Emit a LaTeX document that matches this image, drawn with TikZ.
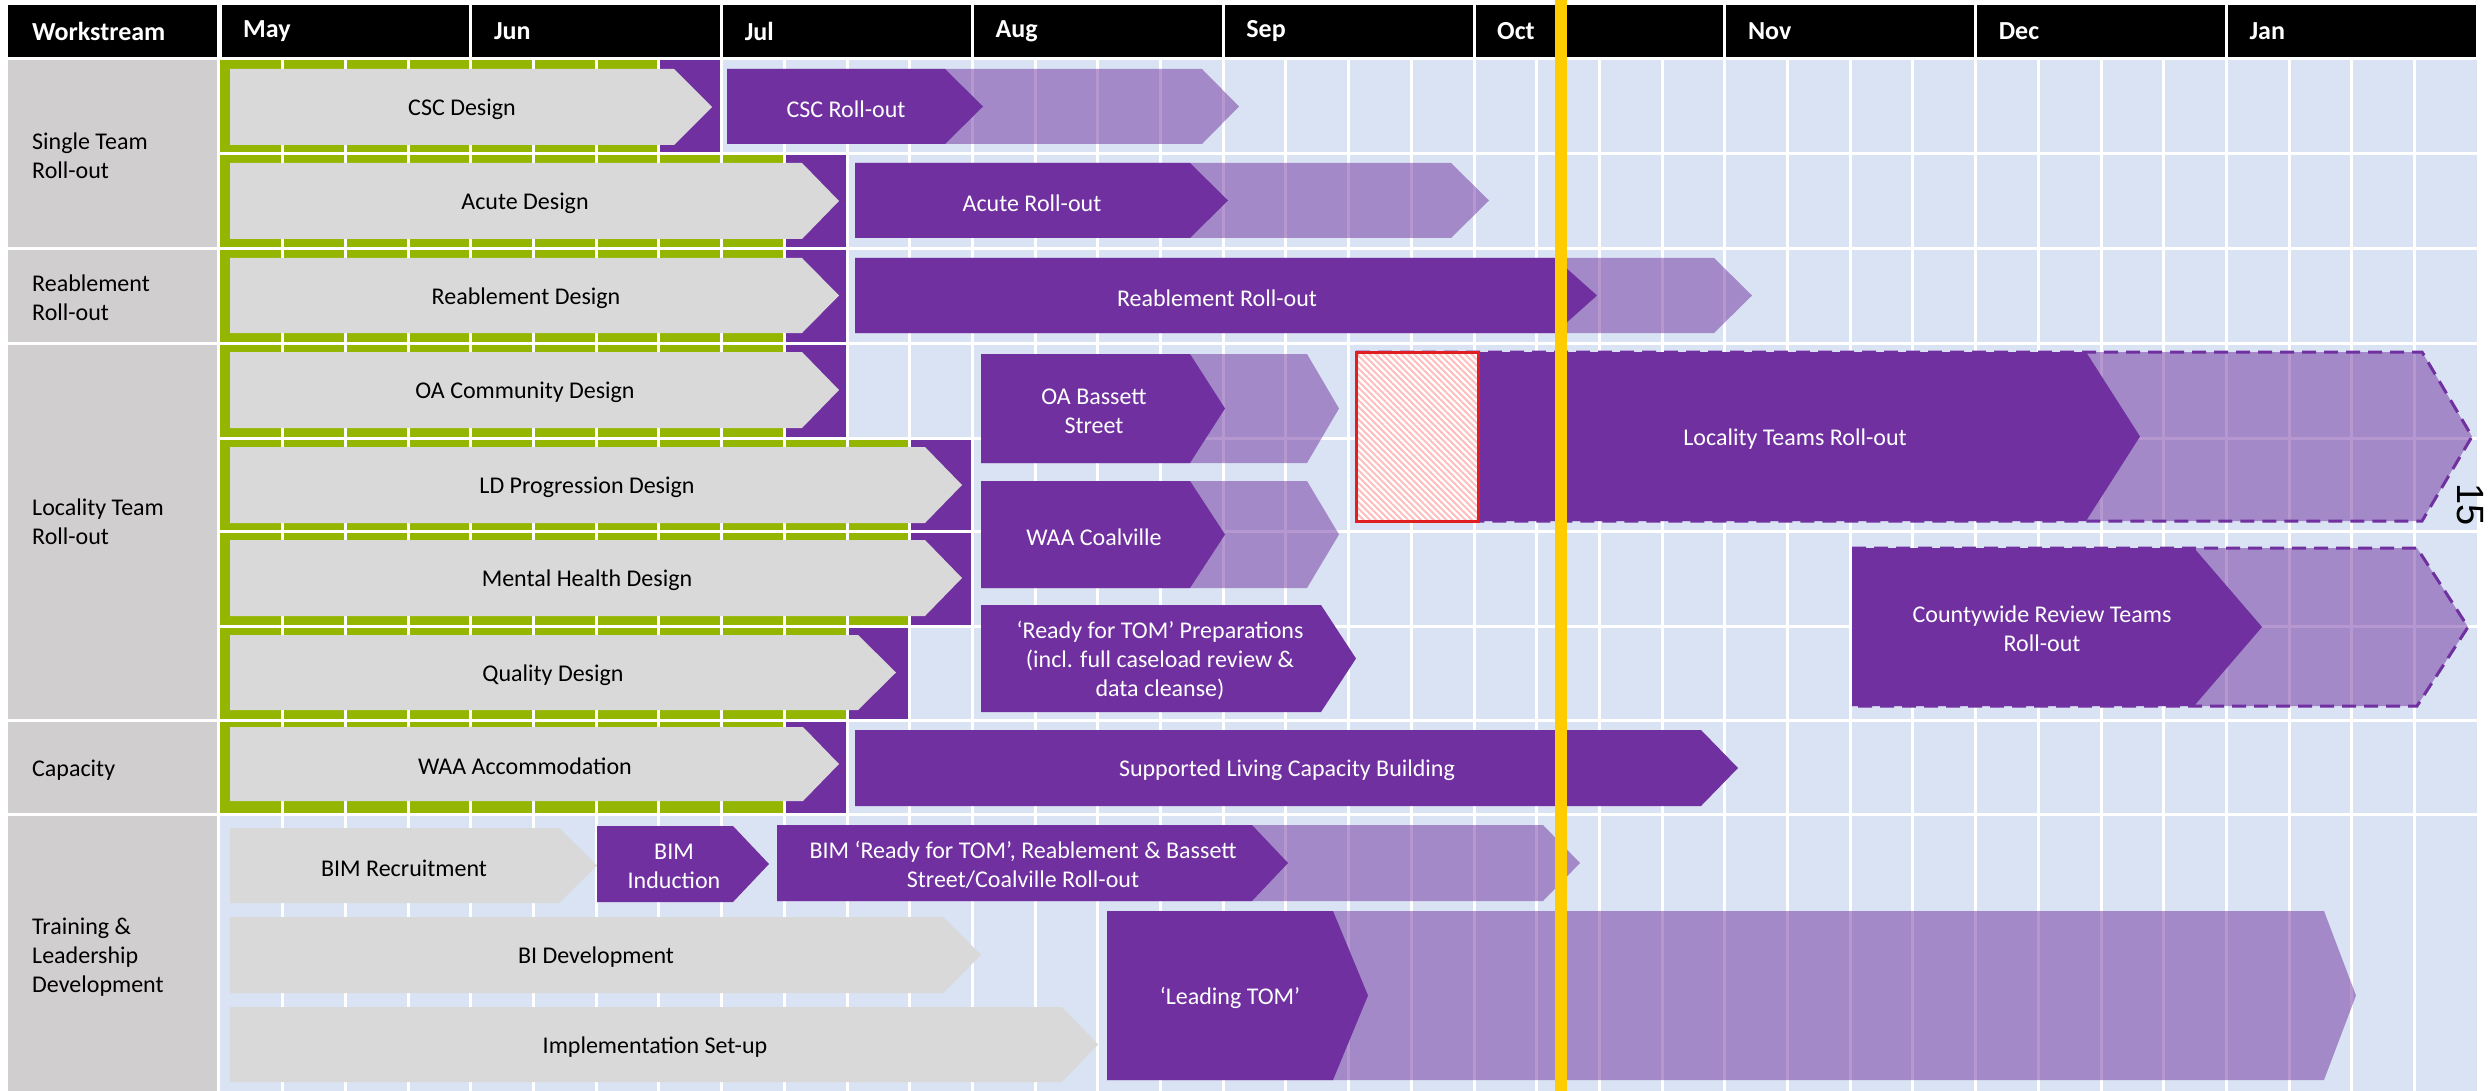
\documentclass[tikz,border=0pt]{standalone}
\usepackage{fontspec}
\setmainfont{Carlito}
\newfontfamily\numfont{Liberation Sans}
\usetikzlibrary{patterns.meta}
\definecolor{pur}{HTML}{7030A0}
\definecolor{gbar}{HTML}{D9D9D9}
\definecolor{lcol}{HTML}{D0CECE}
\definecolor{gridblue}{HTML}{DAE3F3}
\definecolor{grn}{HTML}{94B600}
\definecolor{yel}{HTML}{FFCC00}
\definecolor{hred}{HTML}{E02020}
\definecolor{hpink}{HTML}{FFBDBD}
\newcommand\mychev[6]{\path[#1] (#2,#5) -- (#3,#5) -- (#4,{(#5+#6)/2}) -- (#3,#6) -- (#2,#6) -- cycle;}
\newcommand\mychevedge[6]{\path[#1] (#2,#5) -- (#3,#5) -- (#4,{(#5+#6)/2}) -- (#3,#6) -- (#2,#6);}
\begin{document}
\begin{tikzpicture}[x=1pt,y=-1pt,
  lbl/.style={font=\fontsize{24}{29}\selectfont, align=center, inner sep=0pt},
  wl/.style={lbl, text=white},
  leftlbl/.style={lbl, align=left, anchor=west},
  hdr/.style={font=\fontsize{26}{31}\selectfont\bfseries, text=white, anchor=west, inner sep=0pt},
  graybar/.style={fill=gbar},
  darkbar/.style={fill=pur},
  lightbar/.style={fill=pur, fill opacity=0.5},
  dashedge/.style={draw=pur, line width=3pt, dash pattern=on 14pt off 8pt}]
\useasboundingbox (0,0) rectangle (2489,1091);
\fill[white] (0,0) rectangle (2489,1091);
% header
\fill[black] (8,5) rectangle (217,57);
\foreach \m in {0,...,8} {
  \fill[black] ({220+\m*250.8+1.5},5) rectangle ({220+(\m+1)*250.8-1.5},57);
}
\node[hdr] (hws) at (32,31) {Workstream};
\foreach \m/\nm in {0/May,1/Jun,2/Jul,3/Aug,4/Sep,5/Oct,6/Nov,7/Dec,8/Jan} {
  \node[hdr] (h\m) at ({220+\m*250.8+23},31) {\nm};
}
% grid
\fill[gridblue] (220,58) rectangle (2477,1091);
\foreach \t/\b/\g in {60/152/7,155/247/9,250/342/9,345/437/9,440/530/11,533/625/11,628/719/10,722/813/9} {
  \fill[grn] (220,\t) rectangle ({220+\g*62.7},\b);
  \fill[pur] ({220+\g*62.7},\t) rectangle ({220+(\g+1)*62.7},\b);
}
\foreach \i in {1,...,35} {
  \draw[white, line width=3pt] ({220+\i*62.7},58) -- ({220+\i*62.7},1091);
}
\foreach \y in {58.5,153.5,248.5,343.5,438.5,531.5,626.5,720.5,814.5} {
  \draw[white, line width=3pt] (218,\y) -- (2480,\y);
}
% left column
\foreach \t/\b in {60/247,250/342,345/719,722/813,816/1091} {
  \fill[lcol] (8,\t) rectangle (217,\b);
}
\node[leftlbl] (w1) at (32,156) {Single Team\\Roll-out};
\node[leftlbl] (w2) at (32,298) {Reablement\\Roll-out};
\node[leftlbl] (w3) at (32,522) {Locality Team\\Roll-out};
\node[leftlbl] (w4) at (32,770) {Capacity};
\node[leftlbl] (w5) at (32,957) {Training \&\\Leadership\\Development};
% gray design chevrons
\mychev{graybar}{230}{674}{712}{69}{145}
\mychev{graybar}{230}{802}{839}{163}{239}
\mychev{graybar}{230}{802}{839}{258}{333}
\mychev{graybar}{230}{802}{839}{352}{428}
\mychev{graybar}{230}{925}{962}{447}{523}
\mychev{graybar}{230}{925}{962}{540}{616}
\mychev{graybar}{230}{858}{896}{635}{710}
\mychev{graybar}{230}{803}{839}{727}{801}
\mychev{graybar}{230}{559}{597}{828}{903}
\mychev{graybar}{230}{943}{981}{917}{993}
\mychev{graybar}{230}{1062}{1098}{1007}{1082}
% light (later) parts
\mychev{lightbar}{727}{1202}{1239}{69}{144}
\mychev{lightbar}{855}{1451}{1489}{163}{238}
\mychev{lightbar}{855}{1714}{1752}{258}{333}
\mychev{lightbar}{981}{1307}{1339}{354}{463}
\mychev{lightbar}{981}{1307}{1339}{481}{588}
\mychev{lightbar}{1356}{2422}{2472}{352}{521}
\mychevedge{dashedge}{1356}{2422}{2472}{352}{521}
\mychev{lightbar}{1852}{2417}{2468}{548}{706}
\mychevedge{dashedge}{1852}{2417}{2468}{548}{706}
\mychev{lightbar}{777}{1543}{1580}{825}{901}
\mychev{lightbar}{1107}{2324}{2356}{911}{1080}
% dark parts
\mychev{darkbar}{727}{945}{983}{69}{144}
\mychev{darkbar}{855}{1190}{1228}{163}{238}
\mychev{darkbar}{855}{1555}{1597}{258}{333}
\mychev{darkbar}{981}{1190}{1225}{354}{463}
\mychev{darkbar}{981}{1190}{1225}{481}{588}
\mychev{darkbar}{981}{1321}{1356}{605}{712}
\mychev{darkbar}{1356}{2086}{2140}{352}{521}
\mychev{darkbar}{1852}{2194}{2262}{548}{706}
\mychev{darkbar}{855}{1701}{1738}{730}{806}
\mychev{darkbar}{597}{733}{769}{826}{902}
\mychev{darkbar}{777}{1252}{1288}{825}{901}
\mychev{darkbar}{1107}{1333}{1368}{911}{1080}
% hatched box
\fill[white] (1356,352) rectangle (1478,521);
\fill[pattern={Lines[angle=-45,distance=4.5pt,line width=2pt]}, pattern color=hpink] (1356,352) rectangle (1478,521);
\draw[hred, line width=3pt] (1356,352) rectangle (1478,521);
% labels
\node[lbl] (t1) at (462,109) {CSC Design};
\node[wl] (t2) at (846,109) {CSC Roll-out};
\node[lbl] (t3) at (525,203) {Acute Design};
\node[wl] (t4) at (1032,203) {Acute Roll-out};
\node[lbl] (t5) at (526,298) {Reablement Design};
\node[wl] (t6) at (1217,298) {Reablement Roll-out};
\node[lbl] (t7) at (525,392) {OA Community Design};
\node[lbl] (t8) at (587,487) {LD Progression Design};
\node[lbl] (t9) at (587,580) {Mental Health Design};
\node[lbl] (t10) at (553,675) {Quality Design};
\node[wl] (t11) at (1094,411) {OA Bassett\\Street};
\node[wl] (t12) at (1094,537) {WAA Coalville};
\node[wl] (t13) at (1160,661) {‘Ready for TOM’ Preparations\\(incl. full caseload review \&\\data cleanse)};
\node[wl] (t14) at (1795,439) {Locality Teams Roll-out};
\node[wl] (t15) at (2042,629) {Countywide Review Teams\\Roll-out};
\node[lbl] (t16) at (525,766) {WAA Accommodation};
\node[wl] (t17) at (1287,770) {Supported Living Capacity Building};
\node[lbl] (t18) at (404,868) {BIM Recruitment};
\node[wl] (t19) at (674,866) {BIM\\Induction};
\node[wl] (t20) at (1023,865) {BIM ‘Ready for TOM’, Reablement \& Bassett\\Street/Coalville Roll-out};
\node[lbl] (t21) at (596,957) {BI Development};
\node[lbl] (t22) at (655,1047) {Implementation Set-up};
\node[wl] (t23) at (1230,998) {‘Leading TOM’};
% today line
\coordinate (ytop) at (1561,0);
\coordinate (ybot) at (1561,1091);
\draw[yel, line width=12pt] (ytop) -- (ybot);
% slide number
\node[font=\numfont\fontsize{38}{38}\selectfont, rotate=-90, inner sep=0pt] (pg) at (2470,505) {15};
\end{tikzpicture}
\end{document}
